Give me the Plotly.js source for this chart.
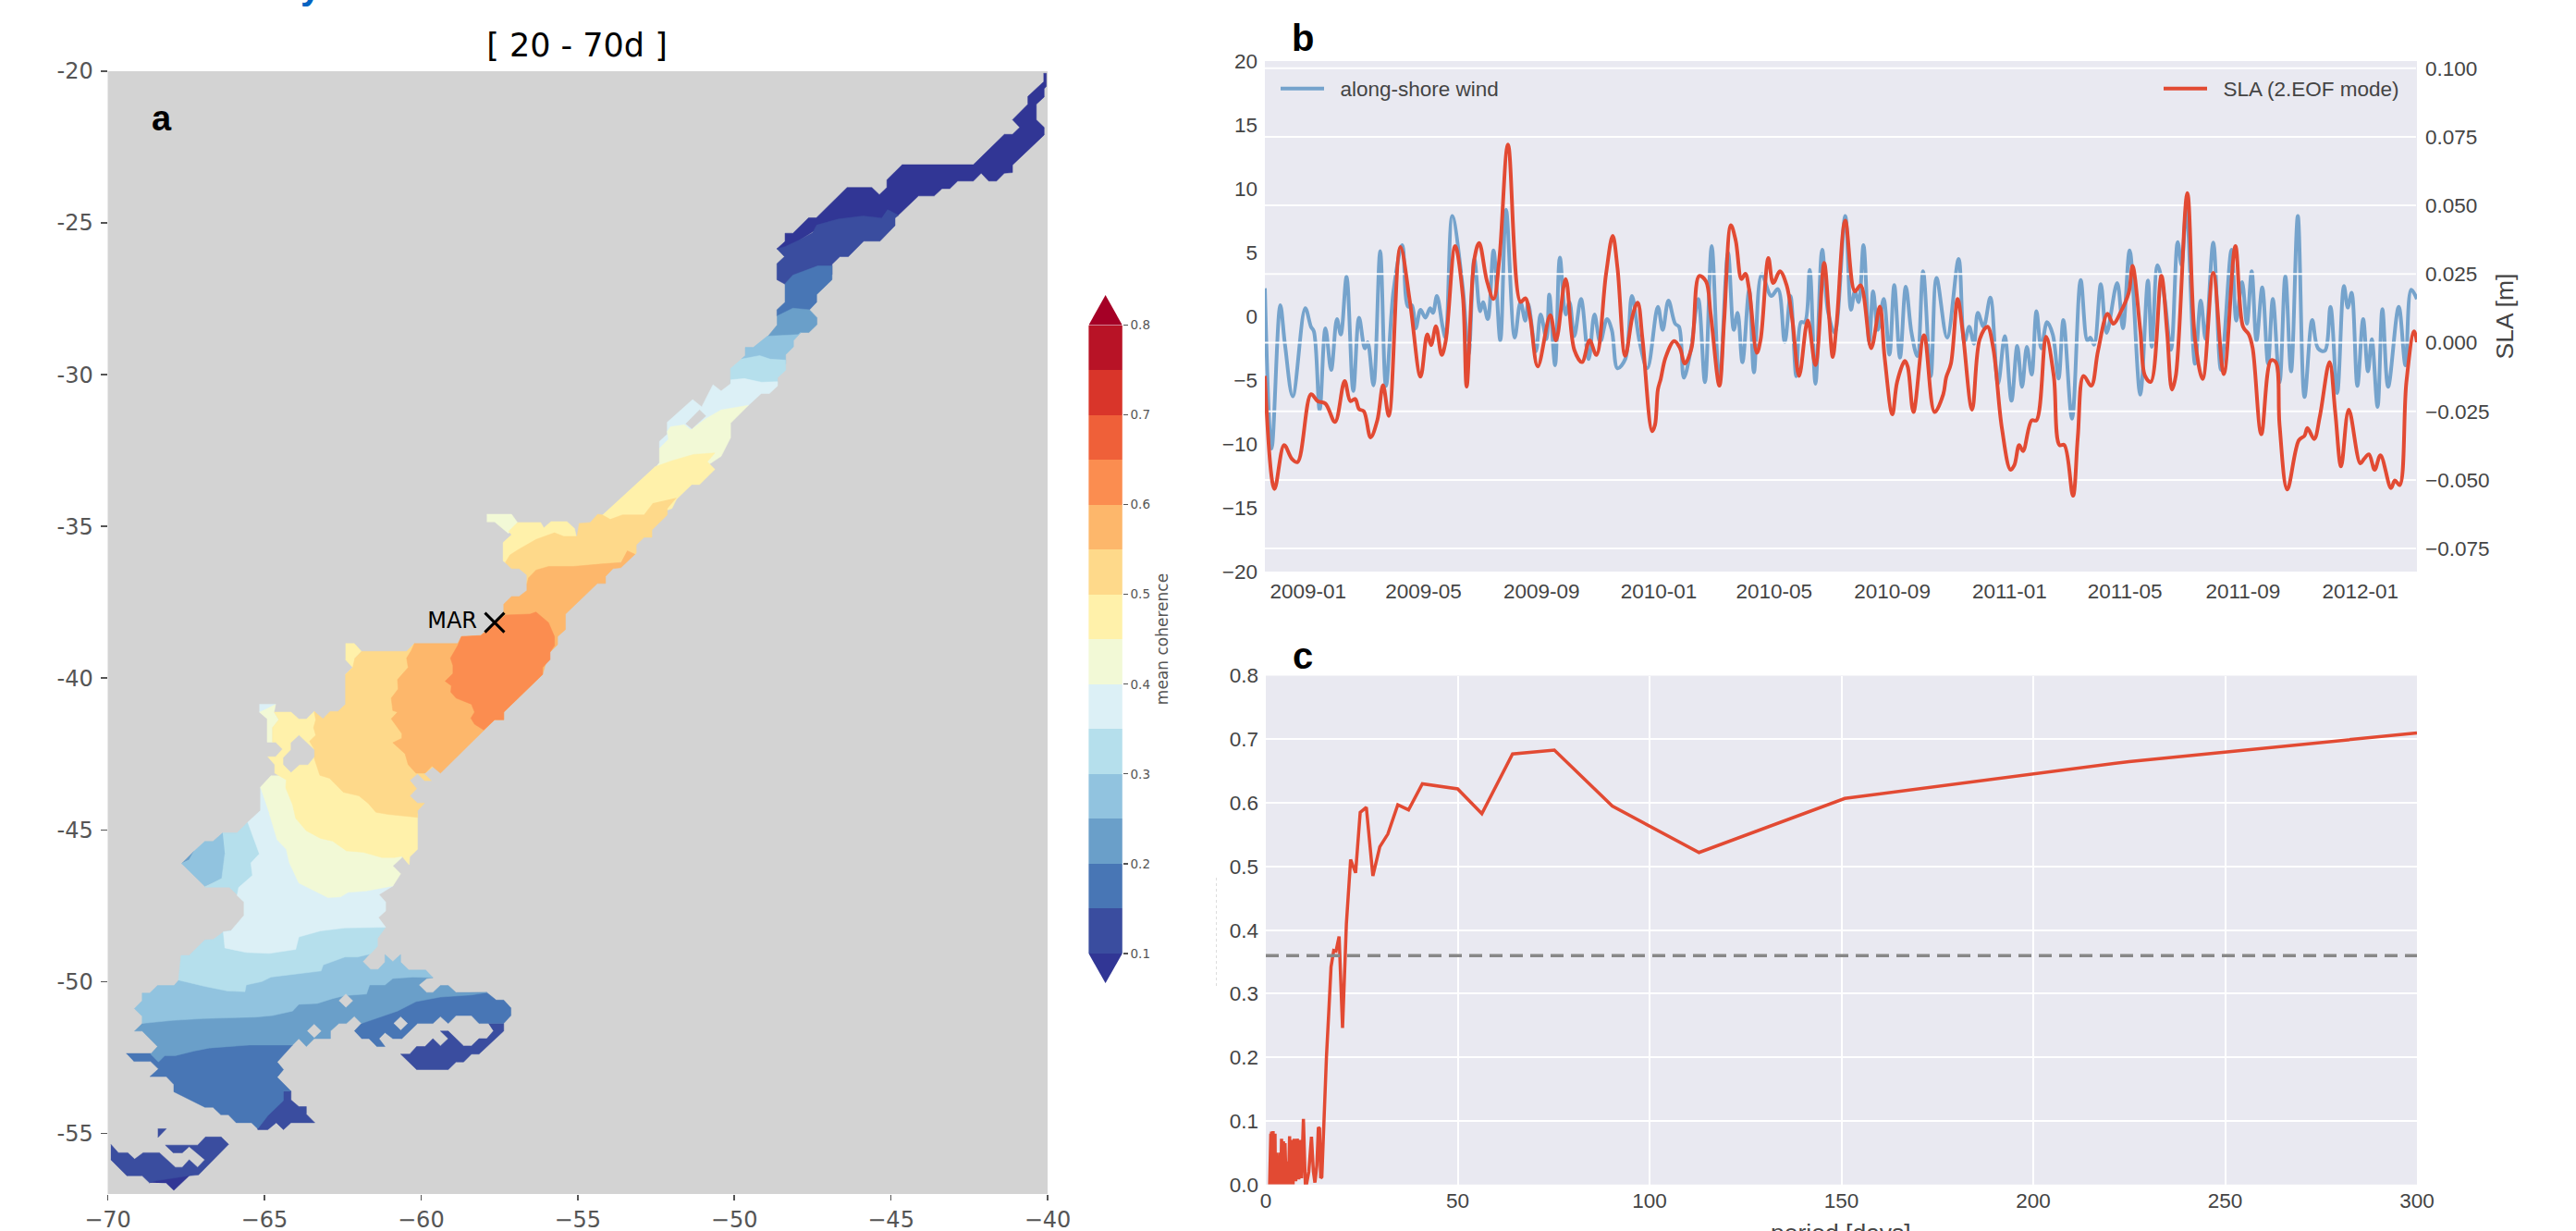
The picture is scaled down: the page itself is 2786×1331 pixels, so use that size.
<!DOCTYPE html>
<html><head><meta charset="utf-8">
<script src="https://cdn.plot.ly/plotly-3.0.1.min.js"></script>
<style>html,body{margin:0;padding:0;background:#fff}</style></head>
<body><div id="chart" style="width:2786px;height:1331px"></div>
<script>
// ---------- panel a: coherence bands, [lon,lat] outlines (null separates parts)
const cohUnder=[[-40.13,-20.07],[-40.04,-20.07],[-40.04,-20.5],[-40.11,-20.58],[-40.11,-20.85],[-40.36,-21.09],[-40.36,-21.6],[-40.11,-21.85],[-40.11,-22.1],[-41.12,-23.09],[-41.12,-23.34],[-41.38,-23.36],[-41.63,-23.62],[-41.88,-23.62],[-42.12,-23.36],[-42.37,-23.62],[-42.87,-23.62],[-43.12,-23.87],[-43.37,-23.87],[-43.62,-24.11],[-44.12,-24.11],[-44.76,-24.74],[-45.5,-25.07],[-47.47,-25.27],[-48.38,-25.88],[-48.64,-25.85],[-48.38,-25.61],[-48.38,-25.34],[-48.13,-25.34],[-47.63,-24.83],[-47.38,-24.83],[-46.4,-23.83],[-45.61,-23.83],[-45.37,-24.07],[-45.13,-23.83],[-45.13,-23.58],[-44.64,-23.08],[-42.37,-23.08],[-41.38,-22.08],[-41.12,-22.08],[-40.89,-21.85],[-41.12,-21.6],[-40.63,-21.09],[-40.63,-20.83],[-40.13,-20.35],null,
[-68.67,-56.63],[-68.4,-56.5],[-67.45,-56.3],[-67.4,-56.4],[-67.89,-56.88],[-68.13,-56.64]];
const coh010=[[-45.11,-24.56],[-44.76,-24.75],[-44.87,-24.84],[-44.87,-25.09],[-45.35,-25.6],[-45.87,-25.6],[-46.36,-26.11],[-46.63,-26.11],[-46.88,-26.36],[-46.88,-26.7],[-47.96,-27.1],[-48.38,-27.02],[-48.64,-26.87],[-48.64,-26.34],[-48.4,-26.11],[-48.64,-25.85],[-48.38,-25.78],[-47.96,-25.58],[-47.5,-25.32],[-47.37,-25.07],[-46.68,-24.87],[-45.89,-24.77],[-45.3,-24.84],null,
[-64.39,-53.61],[-64.15,-53.61],[-64.15,-53.9],[-63.9,-54.12],[-63.66,-54.12],[-63.66,-54.37],[-63.39,-54.65],[-64.15,-54.65],[-64.39,-54.88],[-64.62,-54.65],[-64.89,-54.88],[-65.21,-54.88],[-65.28,-54.42],[-64.49,-53.71],null,
[-57.85,-51.38],[-57.36,-51.38],[-57.36,-51.63],[-58.15,-52.39],[-58.39,-52.39],[-58.64,-52.65],[-58.88,-52.65],[-59.13,-52.9],[-60.14,-52.9],[-60.65,-52.39],[-60.36,-52.39],[-60.14,-52.14],[-59.87,-52.14],[-59.62,-51.88],[-59.38,-52.12],[-59.13,-51.88],[-59.38,-51.63],[-59.13,-51.63],[-58.88,-51.88],[-58.64,-52.12],[-58.39,-52.12],[-58.15,-51.88],[-57.9,-51.88],[-57.69,-51.63],null,
[-69.9,-55.36],[-69.66,-55.64],[-69.36,-55.64],[-69.14,-55.85],[-68.87,-55.64],[-68.35,-55.64],[-67.84,-56.12],[-67.62,-56.12],[-67.4,-55.87],[-67.13,-56.12],[-66.9,-55.87],[-67.4,-55.44],[-67.62,-55.64],[-67.91,-55.64],[-68.16,-55.39],[-67.13,-55.39],[-66.88,-55.12],[-66.38,-55.12],[-66.14,-55.36],[-67.1,-56.37],[-67.4,-56.4],[-68.43,-56.56],[-68.67,-56.63],[-68.9,-56.4],[-69.39,-56.4],[-69.9,-55.87],null,
[-68.4,-54.85],[-68.13,-54.85],[-68.4,-55.14]];
const coh015=[[-46.88,-26.41],[-46.88,-26.87],[-47.37,-27.36],[-47.37,-27.61],[-47.6,-27.86],[-48.06,-28.02],[-48.64,-28.07],[-48.64,-27.86],[-48.38,-27.61],[-48.38,-27.0],[-48.13,-26.72],[-47.62,-26.54],[-47.32,-26.41],null,
[-69.41,-52.37],[-68.63,-52.37],[-68.38,-52.49],[-67.25,-52.09],[-65.48,-51.88],[-64.2,-51.99],[-64.1,-52.09],[-64.59,-52.65],[-64.39,-52.9],[-64.59,-53.15],[-64.15,-53.61],[-64.39,-53.61],[-64.39,-53.92],[-64.89,-54.42],[-65.21,-54.85],[-65.41,-54.65],[-65.9,-54.65],[-66.15,-54.39],[-66.39,-54.39],[-66.64,-54.14],[-66.9,-54.14],[-67.4,-53.89],[-67.89,-53.63],[-67.89,-53.39],[-68.13,-53.13],[-68.65,-53.13],[-68.38,-52.88],[-68.63,-52.63],[-69.17,-52.63],null,
[-62.13,-51.63],[-61.9,-51.38],[-61.34,-51.02],[-60.16,-50.51],[-58.88,-50.38],[-57.9,-50.36],[-57.6,-50.61],[-57.36,-50.61],[-57.13,-50.87],[-57.13,-51.12],[-57.36,-51.38],[-57.85,-51.38],[-58.15,-51.38],[-58.39,-51.12],[-58.88,-51.12],[-59.13,-51.38],[-59.38,-51.15],[-59.62,-51.38],[-60.11,-51.38],[-60.61,-51.88],[-60.9,-51.88],[-61.15,-51.68],[-61.34,-51.88],[-61.15,-52.14],[-61.41,-52.14],[-61.66,-51.88],[-61.9,-51.88]];
const coh020=[[-48.64,-28.07],[-48.13,-27.81],[-47.6,-27.86],[-47.36,-28.12],[-47.36,-28.35],[-47.62,-28.61],[-47.88,-28.61],[-48.06,-28.78],[-48.96,-28.78],[-48.64,-28.37],null,
[-68.9,-51.38],[-66.26,-50.87],[-62.33,-50.05],[-60.36,-49.7],[-59.62,-49.87],[-59.82,-49.9],[-60.07,-50.11],[-59.82,-50.36],[-59.62,-50.36],[-59.38,-50.13],[-59.13,-50.13],[-58.88,-50.36],[-57.9,-50.36],[-58.39,-50.44],[-59.38,-50.51],[-60.16,-50.66],[-60.75,-50.97],[-61.34,-51.19],[-61.9,-51.38],[-62.13,-51.14],[-62.38,-51.38],[-62.62,-51.38],[-62.89,-51.63],[-62.89,-51.88],[-63.41,-51.88],[-63.66,-52.14],[-63.9,-51.88],[-64.1,-52.09],[-65.48,-52.09],[-66.76,-52.19],[-67.25,-52.29],[-67.84,-52.44],[-68.18,-52.44],[-68.38,-52.65],[-68.63,-52.39],[-68.41,-52.14],[-68.9,-51.63],[-69.15,-51.63],null,
[-67.64,-46.11],[-67.25,-45.71],[-67.4,-45.99]];
const coh025=[[-48.96,-28.73],[-47.96,-28.68],[-47.88,-28.61],[-48.11,-28.88],[-48.11,-29.08],[-48.36,-29.34],[-48.36,-29.64],[-49.44,-29.64],[-49.78,-29.49],[-49.65,-29.37],[-49.65,-29.1],[-49.4,-29.1],null,
[-67.74,-49.95],[-66.26,-49.85],[-63.8,-49.45],[-61.84,-48.94],[-61.64,-49.09],[-61.86,-49.34],[-61.61,-49.6],[-61.37,-49.6],[-61.15,-49.36],[-61.15,-49.11],[-60.9,-49.34],[-60.65,-49.11],[-60.65,-49.36],[-60.39,-49.62],[-59.85,-49.62],[-59.62,-49.87],[-60.26,-49.85],[-60.9,-49.9],[-61.15,-50.11],[-61.64,-50.11],[-61.74,-50.41],[-62.43,-50.46],[-62.82,-50.56],[-63.31,-50.72],[-63.9,-50.75],[-64.1,-50.97],[-64.74,-51.12],[-65.28,-51.17],[-66.95,-51.22],[-67.94,-51.28],[-68.9,-51.38],[-68.9,-51.14],[-69.15,-50.89],[-68.9,-50.63],[-68.9,-50.38],[-68.66,-50.38],[-68.41,-50.13],[-67.89,-50.13],null,
[-66.33,-45.1],[-66.64,-45.38],[-66.9,-45.38],[-67.25,-45.71],[-67.4,-45.99],[-67.64,-46.11],[-66.9,-46.86],[-66.1,-46.5],[-66.1,-45.5]];
const coh030=[[-49.78,-29.49],[-49.19,-29.37],[-48.85,-29.49],[-48.36,-29.52],[-48.36,-29.85],[-48.62,-30.1],[-48.62,-30.3],[-50.12,-30.3],[-50.12,-29.79],null,
[-66.31,-48.36],[-64.0,-48.03],[-61.44,-48.03],[-61.13,-48.21],[-61.39,-48.58],[-61.39,-48.84],[-61.62,-49.09],[-62.03,-49.19],[-62.43,-49.19],[-62.87,-49.36],[-63.12,-49.45],[-63.19,-49.65],[-64.0,-49.75],[-64.79,-49.85],[-65.08,-50.0],[-65.58,-50.11],[-65.62,-50.33],[-66.17,-50.31],[-66.9,-50.16],[-67.74,-49.95],[-67.66,-49.14],[-67.4,-49.14],[-66.9,-48.63],[-66.64,-48.61],null,
[-66.33,-45.1],[-65.87,-45.1],[-65.53,-44.75],[-65.33,-44.87],[-64.98,-45.79],[-65.23,-46.5],[-65.67,-47.01],[-65.87,-47.13],[-66.12,-46.89],[-66.9,-46.89],[-66.36,-46.6],[-66.26,-45.79]];
const coh035=[[-50.12,-30.17],[-49.68,-30.13],[-49.14,-30.25],[-48.62,-30.23],[-48.62,-30.37],[-48.88,-30.62],[-49.14,-30.62],[-49.55,-31.01],[-51.01,-32.08],[-52.39,-32.43],[-52.39,-32.2],[-52.14,-31.96],[-52.14,-31.57],[-51.33,-30.82],[-51.04,-31.06],[-50.68,-30.33],[-50.42,-30.54],[-50.12,-30.3],null,
[-57.51,-34.62],[-57.13,-34.62],[-57.13,-34.87],[-57.46,-34.87],null,
[-65.16,-40.86],[-64.64,-40.86],[-64.94,-41.12],[-65.16,-41.12],null,
[-65.13,-43.6],[-64.3,-44.98],[-60.9,-46.7],[-60.9,-46.85],[-61.34,-47.13],[-61.13,-47.38],[-61.13,-47.67],[-61.36,-47.89],[-61.13,-48.21],[-61.74,-48.23],[-62.43,-48.23],[-63.21,-48.33],[-63.9,-48.53],[-64.0,-48.94],[-64.84,-49.07],[-65.58,-49.04],[-66.26,-48.89],[-66.31,-48.36],[-66.07,-48.33],[-65.65,-47.82],[-65.65,-47.38],[-65.87,-47.16],[-65.82,-46.9],[-65.38,-46.5],[-65.43,-46.09],[-65.16,-45.79],[-65.53,-44.75],[-65.13,-44.37]];
const coh040=[[-52.39,-32.89],[-52.39,-32.43],[-52.1,-32.13],[-52.14,-31.87],[-52.04,-31.72],[-51.6,-31.65],[-51.39,-31.82],[-50.91,-31.45],[-50.42,-31.16],[-49.55,-31.01],[-50.12,-31.6],[-50.12,-32.08],[-50.42,-32.69],[-51.0,-33.09],[-52.59,-33.14],null,
[-57.9,-34.6],[-57.11,-34.6],[-56.92,-34.87],[-57.21,-35.23],[-57.65,-34.85],[-57.9,-34.85],null,
[-65.16,-41.12],[-64.91,-41.34],[-64.91,-42.11],[-64.74,-42.11],[-64.74,-41.63],[-64.54,-41.37],[-64.69,-41.12],[-64.64,-40.86],null,
[-65.13,-43.6],[-64.79,-43.22],[-64.3,-43.22],[-62.33,-44.98],[-60.61,-45.79],[-60.61,-45.91],[-60.9,-46.19],[-60.65,-46.45],[-60.9,-46.85],[-61.34,-46.93],[-61.74,-47.01],[-62.33,-47.06],[-62.57,-47.21],[-62.97,-47.23],[-63.41,-47.01],[-63.9,-46.75],[-64.2,-46.09],[-64.3,-45.64],[-64.59,-45.33],[-64.84,-44.47]];
const coh045=[[-52.54,-33.04],[-52.0,-32.84],[-51.31,-32.63],[-50.62,-32.58],[-50.86,-32.87],[-50.62,-33.12],[-51.11,-33.62],[-51.36,-33.62],[-51.85,-34.11],[-51.99,-34.41],[-53.96,-35.12],[-54.21,-34.62],null,
[-57.21,-35.17],[-56.92,-34.87],[-56.18,-34.87],[-56.08,-35.05],[-55.85,-34.84],[-55.34,-34.84],[-55.1,-35.07],[-55.02,-35.43],[-56.92,-36.14],[-57.31,-36.19],[-57.38,-36.14],[-57.38,-35.53],[-57.11,-35.28],null,
[-62.41,-38.86],[-62.13,-38.86],[-61.9,-39.12],[-62.11,-39.34],[-62.11,-39.88],[-62.41,-39.88],[-62.18,-39.65],[-62.41,-39.39],null,
[-64.69,-41.12],[-64.15,-41.12],[-63.9,-41.35],[-63.66,-41.35],[-63.41,-41.1],[-62.82,-42.24],[-60.85,-43.76],[-60.11,-44.47],[-60.11,-45.64],[-60.36,-45.89],[-60.38,-46.15],[-60.61,-45.87],[-60.85,-45.91],[-61.25,-45.91],[-61.84,-45.74],[-62.38,-45.69],[-62.82,-45.37],[-63.21,-45.28],[-63.66,-45.03],[-64.0,-44.62],[-64.1,-44.17],[-64.32,-43.61],[-64.3,-43.35],[-64.49,-43.25],[-64.67,-43.13],[-64.67,-42.85],[-64.89,-42.59],[-64.64,-42.59],[-64.42,-42.34],[-64.64,-42.11],[-64.74,-42.11],[-64.74,-41.63],[-64.54,-41.37]];
const coh050=[[-51.85,-34.06],[-52.14,-34.41],[-52.14,-34.62],[-52.63,-35.12],[-52.63,-35.36],[-52.88,-35.36],[-53.13,-35.61],[-53.13,-35.89],[-53.47,-36.14],[-55.93,-36.75],[-56.62,-36.9],[-56.62,-36.6],[-56.87,-36.39],[-57.11,-36.39],[-57.31,-36.19],[-57.16,-35.94],[-56.92,-35.78],[-56.33,-35.43],[-55.74,-35.21],[-55.44,-35.33],[-55.02,-35.33],[-54.95,-34.9],[-54.6,-34.87],[-54.36,-34.6],[-54.21,-34.62],[-53.96,-34.77],[-53.57,-34.62],[-52.88,-34.62],[-52.59,-34.23],null,
[-61.9,-39.12],[-60.46,-39.12],[-60.21,-38.86],[-59.87,-39.19],[-59.38,-42.74],[-59.87,-43.13],[-59.92,-43.13],[-59.67,-43.38],[-59.89,-43.38],[-60.11,-43.15],[-60.36,-43.37],[-60.14,-43.64],[-60.36,-43.88],[-60.11,-44.12],[-59.89,-44.12],[-60.11,-44.37],[-60.11,-44.59],[-61.05,-44.49],[-61.44,-44.42],[-61.69,-44.12],[-61.98,-43.88],[-62.48,-43.76],[-62.92,-43.3],[-63.23,-43.2],[-63.41,-42.64],[-63.41,-42.34],[-63.56,-42.08],[-63.36,-41.88],[-63.43,-41.63],[-63.36,-41.37],[-63.41,-41.1],[-63.13,-41.34],[-62.9,-41.1],[-62.65,-41.1],[-62.41,-40.86],[-62.41,-39.88],[-62.18,-39.65],[-62.11,-39.34]];
const coh055=[[-53.42,-35.8],[-53.17,-35.92],[-53.62,-36.36],[-53.87,-36.39],[-54.11,-36.65],[-54.11,-36.88],[-54.37,-36.88],[-55.39,-37.89],[-55.39,-38.4],[-55.64,-38.63],[-55.64,-38.9],[-55.93,-39.19],[-56.12,-39.88],[-57.36,-41.12],[-57.36,-41.37],[-57.65,-41.37],[-59.38,-43.13],[-59.65,-42.9],[-59.87,-43.13],[-60.16,-43.13],[-60.41,-42.85],[-60.51,-42.49],[-60.9,-42.13],[-60.61,-41.98],[-60.61,-41.83],[-60.95,-41.34],[-60.75,-41.12],[-60.9,-41.07],[-60.95,-40.66],[-60.73,-40.36],[-60.75,-40.05],[-60.41,-39.65],[-60.46,-39.34],[-60.31,-39.09],[-60.21,-38.86],[-58.83,-38.86],[-58.71,-38.63],[-58.1,-38.6],[-57.36,-37.92],[-57.36,-37.56],[-57.11,-37.31],[-56.87,-37.31],[-56.62,-37.11],[-56.62,-36.9],[-56.57,-36.7],[-56.33,-36.44],[-55.93,-36.32],[-55.14,-36.32],[-54.26,-36.24],[-53.62,-36.19]];
const coh060=[[-57.31,-37.92],[-56.52,-37.89],[-56.33,-37.82],[-55.93,-38.17],[-55.74,-38.63],[-55.74,-38.93],[-55.88,-39.14],[-55.88,-39.39],[-56.12,-39.65],[-56.12,-39.88],[-57.36,-41.12],[-57.36,-41.37],[-57.65,-41.37],[-58.0,-41.71],[-58.29,-41.52],[-58.41,-41.32],[-58.29,-41.12],[-58.39,-40.86],[-58.88,-40.66],[-59.05,-40.46],[-59.03,-40.25],[-59.23,-40.1],[-58.98,-39.85],[-58.98,-39.59],[-59.06,-39.34],[-58.83,-38.93],[-58.71,-38.63],[-58.1,-38.6]];
const noData=[[-51.55,-31.62],[-51.11,-31.16],[-50.91,-31.36],[-51.36,-31.79],null,
[-63.9,-41.88],[-63.41,-42.36],[-63.41,-42.59],[-63.61,-42.85],[-63.88,-42.85],[-64.15,-43.1],[-64.39,-42.85],[-64.39,-42.62],[-64.15,-42.36],[-64.15,-42.13],null,
[-62.62,-50.63],[-62.4,-50.41],[-62.18,-50.63],[-62.4,-50.85],null,
[-63.63,-51.63],[-63.41,-51.41],[-63.19,-51.63],[-63.41,-51.85],null,
[-60.87,-51.38],[-60.65,-51.16],[-60.43,-51.38],[-60.65,-51.6]];
const bandOutlines=[cohUnder,coh010,coh015,coh020,coh025,coh030,coh035,coh040,coh045,coh050,coh055,coh060];
const colorUnder='#313695', colorOver='#a50026';
const bandLevels=[0.10,0.15,0.20,0.25,0.30,0.35,0.40,0.45,0.50,0.55,0.60,0.65,0.70,0.75];
const bandColors=['#3a4d9f','#4876b5','#6a9fc9','#91c3df','#b5dfec','#dcf0f6','#f2f9d6','#fff1aa','#fed98a','#fdb76b','#fb8d50','#ef6039','#d9352a','#b81326'];
const barStep=[0.05,0.05,0.05,0.05,0.05,0.05,0.05,0.05,0.05,0.05,0.05,0.05,0.05,0.05];
const cbTicks=[0.1,0.2,0.3,0.4,0.5,0.6,0.7,0.8];
const cbLabels=['0.1','0.2','0.3','0.4','0.5','0.6','0.7','0.8'];
const mapLonTicks=[-70,-65,-60,-55,-50,-45,-40];
const mapLonLabels=['−70','−65','−60','−55','−50','−45','−40'];
const mapLatTicks=[-20,-25,-30,-35,-40,-45,-50,-55];
const mapLatLabels=['-20','-25','-30','-35','-40','-45','-50','-55'];
const station=[-57.65,-38.17];

// ---------- panel b: days since 2009-01-01
const windDay=[-45,-38,-29,-24,-16,-3,3,6,12,18,24,30,34,40,47,53,59,62,68,75,81,89,98,104,108,112,117,122,127,130,134,140,143,150,161,167,173,179,182,187,193,200,206,215,221,226,229,237,242,248,251,257,262,268,272,277,284,292,298,304,311,316,322,330,337,345,353,
364,369,375,382,386,391,398,406,413,420,428,437,443,447,452,459,464,472,482,489,496,502,508,513,517,522,528,535,541,548,559,565,569,573,578,584,588,593,599,605,610,616,622,628,634,640,648,654,665,677,683,688,693,697,703,710,718,725,732,738,743,748,753,
758,763,769,775,781,786,795,804,811,814,818,825,831,842,848,855,866,874,878,884,891,898,905,909,914,923,929,934,942,950,961,966,972,977,982,987,993,999,1004,1011,1017,1023,1030,1037,1045,1051,1058,1064,1071,1078,1082,1086,1092,1098,1103,1107,1113,1118,1124,1135,1142,1148,1154];
const windVal=[2.2,-10.36,.87,-2.27,-6.26,.63,-.82,-1.18,-7.34,-.94,-4.2,-.22,-1.43,3.09,-5.85,-.1,-2.51,-2.03,-5.41,5.1,-5.46,2.08,5.58,.75,.87,-.94,.51,-.1,.63,.27,1.59,-.82,-1.67,7.87,2.2,-3,4.49,.39,1.11,-.22,5.17,-1.91,8.36,-1.67,1.11,-.34,.99,-2.75,.14,-1.79,1.71,-3.84,4.61,.14,1.11,-1.55,1.35,-3.36,.14,-2.03,-.22,-1.06,-4.08,-3.36,1.59,-2.03,-4.08,
.75,-1.06,1.23,-.58,-.82,-4.81,-2.75,1.35,-5.17,5.51,-5.17,4.98,-1.06,.27,-3.6,2.08,-4.4,3.29,1.59,2.13,-2.03,1.59,-4.69,-.46,-.46,3.65,-5.29,5.22,.39,-1.3,7.87,.51,1.96,1.11,5.58,-2.15,1.96,-1.06,1.35,-3,2.44,-3.24,2.32,-1.3,-3.12,3.53,-4.69,3,-1.67,4.49,-2.03,-.82,-2.15,.27,-.82,1.47,-5.29,-1.55,-6.62,-2.32,-5.53,-2.39,-4.57,
.39,-2.51,-.46,-1.43,-4.88,-.29,-8.02,2.85,-1.91,-1.67,-2.22,2.51,-1.3,2.61,-.94,5.17,-6.14,2.8,-2.39,4.01,1.59,-2.63,5.82,4.01,8.48,-3.72,1.23,-1.79,5.77,-4.2,5.22,-.34,2.68,-.58,3.53,-1.91,2.27,-3.72,1.35,-5.17,3.16,-4.32,7.87,-6.33,-.29,-2.51,-2.71,.75,-6.01,2.37,.68,1.84,-5.46,-.22,-4.32,-1.79,-7.1,.56,-5.53,.75,-3.84,2.08,1.35];
const slaDay=[-45,-35,-25,-17,-11,3,10,18,28,38,44,49,53,58,65,72,78,84,96,106,117,124,128,133,139,143,153,161,165,173,178,186,193,199,208,221,226,231,239,252,258,268,277,285,293,300,310,317,322,330,338,343,348,358,
361,364,367,372,381,387,392,399,407,414,419,428,433,440,445,451,455,459,467,471,479,484,491,498,504,511,520,528,537,542,546,550,559,569,575,586,595,600,608,613,621,624,630,641,652,661,664,669,676,681,691,699,707,713,722,731,735,740,744,753,
758,768,776,782,787,796,801,807,815,822,832,838,846,854,858,866,871,877,888,894,899,903,915,923,931,942,953,965,973,979,983,992,1002,1007,1011,1019,1031,1037,1040,1047,1053,1063,1069,1075,1083,1095,1099,1104,1110,1116,1127,1131,1136,1143,1151,1154];
const slaVal=[-.0121,-.0533,-.0373,-.0423,-.0435,-.0188,-.0213,-.0222,-.0289,-.014,-.0213,-.0205,-.0242,-.025,-.0345,-.0283,-.0155,-.0267,.0349,.0148,-.0124,.003,-.0009,.006,-.0045,.0002,.0352,.017,-.016,.0305,.0363,.0226,.0159,.0305,.0722,.0148,.0162,.0092,-.0087,.01,.0008,.0232,-.0026,-.0071,.0008,-.0045,.0249,.0389,.0271,-.0048,.0103,.0146,.0013,-.0323,
-.03,-.0171,-.0132,-.0054,.0006,-.002,-.0076,-.002,.0243,.0224,.0103,-.0157,.0081,.0428,.0372,.0232,.0251,.0193,-.0037,.0013,.0308,.0217,.026,.0209,.0081,-.0121,.0081,-.0082,.0291,.0103,-.0052,.0069,.0445,.0187,.0209,-.002,.0131,-.0054,-.0261,-.0143,-.0067,-.0087,-.0253,.0027,-.0253,-.0188,-.0127,-.0076,.0159,.0047,-.0244,.0013,.0058,-.002,-.0311,-.0463,-.0446,-.0373,-.0395,-.0283,
-.0283,.0022,-.0121,-.0373,-.0373,-.0558,-.0345,-.0121,-.0157,-.0031,.0105,.0069,.0114,.0181,.028,.0047,-.0121,-.0143,.0243,.0036,-.0171,-.0121,.0545,.0013,-.0132,.0254,-.0115,.0352,.0058,.003,-.002,-.0334,-.0065,-.0071,-.03,-.0535,-.0356,-.0339,-.0311,-.0351,-.0267,-.0071,-.0255,-.0451,-.0244,-.044,-.0423,-.0407,-.0463,-.041,-.053,-.0502,-.0519,-.0143,.0041,.0002];
const bDateTicks=['2009-01-01','2009-05-01','2009-09-01','2010-01-01','2010-05-01','2010-09-01','2011-01-01','2011-05-01','2011-09-01','2012-01-01'];
const bDateLabels=['2009-01','2009-05','2009-09','2010-01','2010-05','2010-09','2011-01','2011-05','2011-09','2012-01'];
const windTicks=[20,15,10,5,0,-5,-10,-15,-20];
const windLabels=['20','15','10','5','0','−5','−10','−15','−20'];
const slaTicks=[0.1,0.075,0.05,0.025,0,-0.025,-0.05,-0.075];
const slaLabels=['0.100','0.075','0.050','0.025','0.000','−0.025','−0.050','−0.075'];

// ---------- panel c
const periodDays=[1,1.1,1.2,1.3,1.4,1.5,1.6,1.7,1.8,1.9,2,2.1,2.3,2.4,2.5,2.7,2.9,3.1,3.3,3.6,3.9,4.1,4.4,4.6,4.8,5,5.3,5.6,5.9,6.2,6.5,6.8,7.1,7.4,7.8,8.2,8.6,9,9.3,9.8,10.3,10.6,11.2,11.9,12.4,12.8,13.3,13.7,14,14.3,14.6,15.2,15.8,16.4,17,17.7,18.3,19.1,20,21,22.1,23.4,24.6,26.2,27.9,29.7,31.8,34.4,37.2,40.8,45.3,50,56.3,64.3,75.2,90.3,112.9,150.9,225,300];
const meanCoherence=[0,.06,0,.08,0,.083,0,.07,.01,.084,0,.08,.02,.08,0,.05,0,.04,0,.05,0,.072,0,.068,0,.065,0,.036,0,.076,0,.07,0,.072,.005,.072,.008,.07,.01,.103,0,0,.02,.075,.02,.003,.03,.09,.088,.01,.012,.113,.2,.27,.342,.368,.367,.39,.246,.41,.511,.49,.585,.593,.485,.531,.551,.597,.589,.63,.626,.622,.583,.677,.683,.595,.522,.607,.665,.71];
const significance=[0.36,0.36];
const sigPeriod=[0,300];
const cYTicks=[0,.1,.2,.3,.4,.5,.6,.7,.8];
const cYLabels=['0.0','0.1','0.2','0.3','0.4','0.5','0.6','0.7','0.8'];
const cXTicks=[0,50,100,150,200,250,300];

// ---------- page geometry
const W=2786,H=1331;
const hDom=(a,b)=>[a/W,b/W];
const vDom=(top,bottom)=>[1-bottom/H,1-top/H];
const dayToDate=d=>new Date(Date.UTC(2009,0,1)+d*864e5).toISOString().slice(0,10);
const sans='"Liberation Sans", Arial, sans-serif', dv='"DejaVu Sans", sans-serif';
const RED='#e24a33', BLUE='#75a3cc', PANEL='#e9e9f1', LAND='#d3d3d3', GREY='#555555', INK='#444444';

const polyTrace=(pts,color)=>({type:'scatter',mode:'lines',xaxis:'x',yaxis:'y',
  x:pts.map(p=>p?p[0]:null),y:pts.map(p=>p?p[1]:null),fill:'toself',fillcolor:color,
  line:{color:color,width:0.5},hoverinfo:'skip',showlegend:false});

const traces=[];
const mapColors=[colorUnder].concat(bandColors);
bandOutlines.forEach((pts,i)=>traces.push(polyTrace(pts,mapColors[i])));
traces.push(polyTrace(noData,LAND));
traces.push({type:'scatter',mode:'markers+text',xaxis:'x',yaxis:'y',x:[station[0]],y:[station[1]],
  marker:{symbol:'x-thin',size:21,line:{color:'#000',width:3}},text:['MAR\u2009'],textposition:'middle left',
  textfont:{family:dv,size:24,color:'#000'},showlegend:false,hoverinfo:'skip'});

// colour bar
traces.push({type:'bar',xaxis:'x4',yaxis:'y5',x:bandLevels.map(()=>0.5),y:barStep,base:bandLevels,width:1,
  marker:{color:bandColors,line:{width:0}},showlegend:false,hoverinfo:'skip'});
traces.push({type:'scatter',mode:'lines',xaxis:'x4',yaxis:'y5',x:[0,0.5,1],y:[0.8,0.8335,0.8],fill:'toself',fillcolor:colorOver,line:{width:0},showlegend:false,hoverinfo:'skip'});
traces.push({type:'scatter',mode:'lines',xaxis:'x4',yaxis:'y5',x:[0,0.5,1],y:[0.1,0.067,0.1],fill:'toself',fillcolor:colorUnder,line:{width:0},showlegend:false,hoverinfo:'skip'});

// panel b
const wx=windDay.map(dayToDate), sx=slaDay.map(dayToDate);
traces.push({type:'scatter',mode:'lines',name:'\u00a0\u00a0along-shore wind',xaxis:'x2',yaxis:'y2',x:wx,y:windVal,
  line:{color:BLUE,width:4,shape:'spline',smoothing:1},legend:'legend',hoverinfo:'skip'});
// the SLA axis grid lies over the wind curve and under the SLA curve
const gridX=[],gridY=[];
slaTicks.forEach(v=>{gridX.push('2008-11-17','2012-02-28',null);gridY.push(v,v,null);});
traces.push({type:'scatter',mode:'lines',xaxis:'x2',yaxis:'y3',x:gridX,y:gridY,line:{color:'rgba(255,255,255,0.92)',width:2},showlegend:false,hoverinfo:'skip'});
traces.push({type:'scatter',mode:'lines',name:'\u00a0\u00a0SLA (2.EOF mode)',xaxis:'x2',yaxis:'y3',x:sx,y:slaVal,
  line:{color:RED,width:4,shape:'spline',smoothing:1},legend:'legend2',hoverinfo:'skip'});

// panel c
traces.push({type:'scatter',mode:'lines',xaxis:'x3',yaxis:'y4',x:periodDays,y:meanCoherence,line:{color:RED,width:3.5},showlegend:false,hoverinfo:'skip'});
traces.push({type:'scatter',mode:'lines',xaxis:'x3',yaxis:'y4',x:sigPeriod,y:significance,line:{color:'#888888',width:3.5,dash:'14px,8px'},showlegend:false,hoverinfo:'skip'});

const bg=(xr,yr,c)=>({type:'rect',layer:'below',xref:xr+' domain',yref:yr+' domain',x0:0,x1:1,y0:0,y1:1,fillcolor:c,line:{width:0}});
const letter=(t,x,y,size)=>({text:t,xref:'paper',yref:'paper',x:x/W,y:1-y/H,xanchor:'center',yanchor:'middle',showarrow:false,font:{family:sans,size:size,color:'#000',weight:700}});
const mapAxisFont={family:dv,size:24,color:GREY}, plotFont={family:sans,size:22.5,color:INK};
const legendBase={bgcolor:'rgba(0,0,0,0)',borderwidth:0,font:{family:sans,size:22.5,color:INK},itemwidth:47,yanchor:'middle',itemclick:false,itemdoubleclick:false};

const layout={width:W,height:H,margin:{l:0,r:0,t:0,b:0,pad:0},paper_bgcolor:'#fff',plot_bgcolor:'rgba(0,0,0,0)',showlegend:true,bargap:0,
  title:{text:'[ 20 - 70d ]',x:624/W,xanchor:'center',xref:'paper',y:1-49/H,yanchor:'middle',yref:'paper',font:{family:dv,size:35,color:'#000'}},
  // panel a
  xaxis:{domain:hDom(116.5,1133),range:[-70,-40],tickmode:'array',tickvals:mapLonTicks,ticktext:mapLonLabels,ticks:'outside',ticklen:6,tickwidth:1.5,tickcolor:GREY,tickfont:mapAxisFont,showgrid:false,zeroline:false,showline:false,anchor:'y',ticklabelstandoff:0},
  yaxis:{domain:vDom(77,1291),range:[-57,-20],tickmode:'array',tickvals:mapLatTicks,ticktext:mapLatLabels,ticks:'outside',ticklen:7,tickwidth:1.5,tickcolor:GREY,tickfont:mapAxisFont,showgrid:false,zeroline:false,showline:false,anchor:'x',ticklabelstandoff:3},
  // panel b
  xaxis2:{domain:hDom(1368,2614),type:'date',range:['2008-11-17.6','2012-02-28'],tickmode:'array',tickvals:bDateTicks,ticktext:bDateLabels,ticks:'',tickfont:plotFont,showgrid:false,zeroline:false,showline:false,anchor:'y2',ticklabelstandoff:5},
  yaxis2:{domain:vDom(66,618),range:[-20,20],tickmode:'array',tickvals:windTicks,ticktext:windLabels,ticks:'',tickfont:plotFont,showgrid:false,zeroline:false,showline:false,anchor:'x2',ticklabelstandoff:7},
  yaxis3:{overlaying:'y2',side:'right',anchor:'x2',range:[-0.0834,0.1026],tickmode:'array',tickvals:slaTicks,ticktext:slaLabels,ticks:'',tickfont:plotFont,showgrid:false,zeroline:false,showline:false,ticklabelstandoff:8,
    title:{text:'SLA [m]',font:{family:sans,size:26.5,color:INK},standoff:7}},
  // panel c
  xaxis3:{domain:hDom(1369,2614),range:[0,300],tickmode:'array',tickvals:cXTicks,ticks:'',tickfont:plotFont,gridcolor:'#ffffff',gridwidth:2,showgrid:true,zeroline:false,showline:false,anchor:'y4',ticklabelstandoff:2},
  yaxis4:{domain:vDom(730.6,1280.7),range:[0,0.8],tickmode:'array',tickvals:cYTicks,ticktext:cYLabels,ticks:'',tickfont:plotFont,gridcolor:'#ffffff',gridwidth:2,showgrid:true,zeroline:false,showline:false,anchor:'x3',ticklabelstandoff:7},
  // colour bar
  xaxis4:{domain:hDom(1177.4,1213.8),range:[0,1],visible:false,anchor:'y5',fixedrange:true},
  yaxis5:{domain:vDom(319,1063),range:[0.067,0.8335],side:'right',anchor:'x4',tickmode:'array',tickvals:cbTicks,ticktext:cbLabels,ticks:'outside',ticklen:5,tickwidth:1.2,tickcolor:GREY,tickfont:{family:dv,size:13.5,color:GREY},showgrid:false,zeroline:false,showline:false,
    title:{text:'mean coherence',font:{family:dv,size:17,color:GREY},standoff:8}},
  legend:Object.assign({},legendBase,{x:1380/W,xanchor:'left',y:1-96/H}),
  legend2:Object.assign({},legendBase,{x:2600/W,xanchor:'right',y:1-96/H}),
  shapes:[bg('x','y',LAND),bg('x2','y2',PANEL),bg('x3','y4',PANEL),
    {type:'line',xref:'paper',yref:'paper',x0:1315.5/W,x1:1315.5/W,y0:1-1066/H,y1:1-946/H,line:{color:'#dddddd',width:1,dash:'dot'}}],
  annotations:[letter('a',175,128,38),letter('b',1409,41,40),letter('c',1409,709,40),
    {text:'y',xref:'paper',yref:'paper',x:336/W,y:1-9/H,xanchor:'center',yanchor:'bottom',showarrow:false,font:{family:sans,size:40,color:'#0563c1',weight:700}},
    {text:'period [days]',xref:'paper',yref:'paper',x:1991/W,y:1-1316/H,xanchor:'center',yanchor:'top',showarrow:false,font:{family:sans,size:26.5,color:INK}}]
};
Plotly.newPlot('chart',traces,layout,{staticPlot:true,displayModeBar:false});
</script></body></html>
